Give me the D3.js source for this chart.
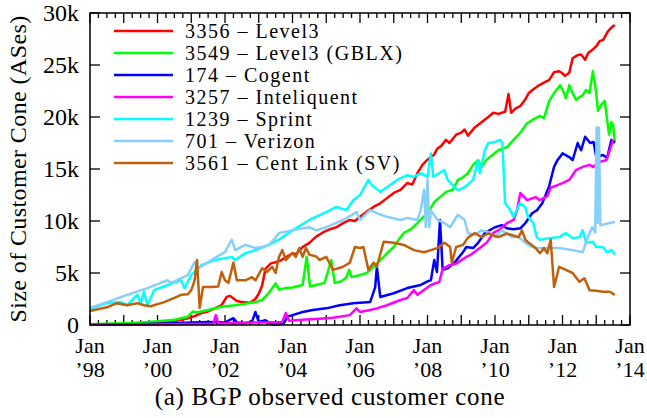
<!DOCTYPE html>
<html>
<head>
<meta charset="utf-8">
<script src="https://cdn.jsdelivr.net/npm/d3@7"></script>
<style>
  body { margin: 0; background: #fff; }
  svg text { font-family: 'Liberation Serif', 'Times New Roman', serif; fill: #000; }
</style>
</head>
<body>
<div class="container"></div>
<script>
// [year, customer cone size]
const level3 = [[1998.0,30],[1998.5,50],[1999.0,80],[1999.5,120],[2000.0,200],[2000.5,350],[2000.9,650],[2001.1,850],[2001.3,1150],[2001.5,1300],[2001.7,1600],[2001.9,1900],[2002.05,2700],[2002.15,2800],[2002.35,2300],[2002.5,2200],[2002.75,2150],[2002.9,2500],[2003.0,3000],[2003.1,3800],[2003.2,5400],[2003.35,5900],[2003.5,6050],[2003.65,6200],[2003.8,6500],[2004.0,6900],[2004.1,6800],[2004.3,7500],[2004.5,7900],[2004.7,8500],[2004.9,8900],[2005.1,9200],[2005.3,9400],[2005.5,9800],[2005.7,10100],[2005.85,10000],[2006.0,10400],[2006.2,10900],[2006.4,11350],[2006.6,11700],[2006.8,12200],[2007.0,12700],[2007.2,13000],[2007.4,13650],[2007.55,13500],[2007.7,14600],[2007.85,15400],[2008.0,15900],[2008.2,16400],[2008.3,17000],[2008.4,17200],[2008.55,17800],[2008.65,17500],[2008.85,18300],[2009.0,18500],[2009.1,18800],[2009.2,18200],[2009.4,19000],[2009.6,19500],[2009.8,20000],[2009.95,20400],[2010.1,20300],[2010.3,20500],[2010.4,22200],[2010.48,20400],[2010.6,20800],[2010.75,21050],[2010.9,21700],[2011.0,22300],[2011.15,22700],[2011.3,23050],[2011.45,23300],[2011.6,23550],[2011.75,24300],[2011.9,24400],[2012.0,24200],[2012.07,23950],[2012.2,24250],[2012.3,25650],[2012.45,25950],[2012.55,26000],[2012.67,25500],[2012.76,26150],[2012.9,26500],[2013.0,26800],[2013.1,27300],[2013.2,27400],[2013.35,28250],[2013.45,28600],[2013.55,28850]];

const gblx = [[1998.0,80],[1998.5,120],[1999.0,180],[1999.5,250],[2000.0,350],[2000.5,500],[2000.9,800],[2001.05,1300],[2001.15,1200],[2001.5,1450],[2001.9,1750],[2002.3,1900],[2002.6,2050],[2002.9,2200],[2003.1,2400],[2003.3,3100],[2003.5,4000],[2003.6,3400],[2003.8,3550],[2004.0,3600],[2004.3,3850],[2004.42,6550],[2004.52,3700],[2004.7,3850],[2004.95,4050],[2005.15,6250],[2005.25,4050],[2005.45,4200],[2005.6,4600],[2005.68,5300],[2005.75,4600],[2006.0,4800],[2006.2,5000],[2006.4,5600],[2006.7,6550],[2006.9,7200],[2007.0,7500],[2007.2,8450],[2007.3,8850],[2007.5,9200],[2007.7,9800],[2007.85,10300],[2008.0,10750],[2008.2,11800],[2008.37,12300],[2008.55,12800],[2008.75,13000],[2008.9,13950],[2009.05,14200],[2009.2,14600],[2009.35,15400],[2009.5,15850],[2009.6,15200],[2009.75,15900],[2009.85,16150],[2010.1,16800],[2010.35,17100],[2010.55,17800],[2010.74,18450],[2010.95,19400],[2011.15,19800],[2011.33,20100],[2011.45,19900],[2011.6,21500],[2011.75,22300],[2011.93,23050],[2012.05,22300],[2012.1,21800],[2012.2,23050],[2012.3,22300],[2012.4,21650],[2012.5,21900],[2012.6,22100],[2012.7,22600],[2012.8,22300],[2012.9,24400],[2013.0,22300],[2013.05,20600],[2013.15,21200],[2013.25,21550],[2013.32,19800],[2013.38,18300],[2013.45,19500],[2013.5,19200],[2013.55,17600]];

const cogent = [[1998.0,30],[1999.0,60],[2000.0,120],[2000.5,180],[2001.0,230],[2001.5,280],[2002.0,250],[2002.25,650],[2002.35,250],[2002.6,200],[2002.8,300],[2002.9,1250],[2003.0,300],[2003.2,450],[2003.4,50],[2003.6,50],[2003.75,200],[2003.85,800],[2004.0,950],[2004.3,1250],[2004.6,1450],[2005.0,1600],[2005.4,1900],[2005.8,2100],[2006.3,2200],[2006.45,3650],[2006.5,5600],[2006.6,2700],[2007.0,3050],[2007.4,3550],[2007.8,3850],[2008.0,4200],[2008.1,4300],[2008.2,6250],[2008.28,5100],[2008.37,10100],[2008.45,5300],[2008.6,5450],[2008.8,6000],[2009.05,7000],[2009.15,7500],[2009.35,7400],[2009.5,7900],[2009.7,8850],[2010.0,9400],[2010.2,9600],[2010.35,9300],[2010.55,9200],[2010.75,9300],[2010.9,9800],[2011.1,10750],[2011.25,11050],[2011.4,11700],[2011.6,13300],[2011.75,15200],[2011.85,15850],[2012.0,16500],[2012.2,16150],[2012.3,15850],[2012.45,17500],[2012.55,16800],[2012.67,18100],[2012.82,17500],[2012.92,17600],[2013.0,16150],[2013.2,16350],[2013.32,16050],[2013.45,17800],[2013.55,17500]];

const inteliquent = [[1998.0,20],[1999.0,40],[2000.0,60],[2001.0,100],[2001.65,120],[2001.73,950],[2001.8,150],[2002.5,200],[2003.0,250],[2003.7,300],[2003.8,1150],[2003.9,400],[2004.3,500],[2004.8,600],[2005.2,700],[2005.7,950],[2005.9,1600],[2006.0,1250],[2006.3,1450],[2006.5,1600],[2006.8,1900],[2007.2,2400],[2007.4,2600],[2007.6,3350],[2007.7,2900],[2008.1,3850],[2008.35,4150],[2008.45,5400],[2008.65,5750],[2008.85,5900],[2009.1,6450],[2009.3,6800],[2009.55,7400],[2009.75,7900],[2009.95,8850],[2010.15,9200],[2010.35,9800],[2010.55,10100],[2010.65,11000],[2010.75,12700],[2010.95,12000],[2011.2,12300],[2011.33,12000],[2011.55,12400],[2011.65,13200],[2011.85,13450],[2012.0,13650],[2012.2,13950],[2012.4,14900],[2012.6,15200],[2012.8,15400],[2012.9,15200],[2013.1,15700],[2013.3,15850],[2013.4,16800],[2013.5,17800]];

const sprint = [[1998.0,1500],[1998.3,1900],[1998.5,2100],[1998.9,2200],[1999.1,1900],[1999.4,2900],[1999.5,2100],[1999.6,3200],[1999.7,1900],[1999.9,3350],[2000.3,3850],[2000.6,4200],[2000.7,4300],[2000.8,3550],[2001.0,4800],[2001.2,5450],[2001.3,5750],[2001.7,6250],[2002.2,6550],[2002.3,6250],[2002.6,6900],[2002.9,7200],[2003.3,7700],[2003.6,8200],[2004.0,9100],[2004.5,10100],[2005.0,10850],[2005.3,11350],[2005.6,11050],[2005.8,12000],[2006.0,12500],[2006.25,13950],[2006.35,13450],[2006.6,12800],[2006.8,13250],[2007.1,13950],[2007.4,14400],[2007.6,14250],[2007.8,14600],[2008.0,14250],[2008.1,16500],[2008.17,14250],[2008.5,14900],[2008.6,13950],[2008.9,12950],[2009.1,13250],[2009.35,13950],[2009.5,15850],[2009.55,14600],[2009.7,16800],[2009.8,17500],[2010.0,17600],[2010.15,17800],[2010.22,17500],[2010.3,11700],[2010.45,11050],[2010.55,10400],[2010.74,11700],[2010.89,11350],[2010.98,10400],[2011.13,9800],[2011.24,8450],[2011.33,8200],[2011.6,8350],[2011.9,8450],[2012.1,8850],[2012.3,8350],[2012.5,8450],[2012.6,9100],[2012.7,7900],[2012.9,8000],[2013.0,7500],[2013.2,7500],[2013.32,7000],[2013.45,7200],[2013.55,6750]];

const verizon = [[1998.0,1650],[1998.5,2200],[1999.1,2900],[1999.7,3550],[2000.3,4300],[2000.4,4050],[2000.9,4800],[2001.1,6050],[2001.2,5450],[2001.7,6450],[2002.0,7000],[2002.2,8200],[2002.3,7200],[2002.6,7700],[2002.9,7400],[2003.1,7500],[2003.3,7700],[2003.5,8400],[2003.6,8850],[2004.0,9100],[2004.5,9400],[2004.7,9100],[2005.0,9400],[2005.5,10100],[2005.9,10850],[2006.0,10100],[2006.3,11050],[2006.5,10750],[2006.8,10400],[2007.2,10100],[2007.4,10300],[2007.7,10100],[2007.8,11050],[2007.9,13000],[2007.95,9400],[2008.0,14000],[2008.05,9400],[2008.1,11000],[2008.3,10100],[2008.5,9800],[2008.67,9400],[2008.9,10600],[2009.1,10100],[2009.2,8850],[2009.4,8650],[2009.6,9100],[2009.8,8950],[2010.0,8450],[2010.2,9100],[2010.5,8450],[2010.7,8450],[2010.9,7900],[2011.1,7500],[2011.3,7400],[2011.9,7400],[2012.3,7200],[2012.6,7000],[2012.75,8450],[2012.88,9400],[2012.97,8900],[2013.01,19000],[2013.04,9800],[2013.08,19000],[2013.12,9600],[2013.4,9800],[2013.55,9900]];

const centLink = [[1998.0,1350],[1998.5,1700],[1998.8,2100],[1999.1,1900],[1999.4,2100],[1999.6,1900],[1999.8,1800],[2000.2,2200],[2000.5,2600],[2000.7,2900],[2000.9,2950],[2001.0,3350],[2001.1,4300],[2001.17,6250],[2001.25,1650],[2001.35,3650],[2001.6,3650],[2001.8,3700],[2001.9,5100],[2002.0,4300],[2002.1,4050],[2002.25,6000],[2002.35,4300],[2002.6,4300],[2002.8,4600],[2002.9,4300],[2003.1,5450],[2003.25,5100],[2003.4,5600],[2003.5,5000],[2003.6,6550],[2003.7,7200],[2003.8,6250],[2004.0,6900],[2004.1,6550],[2004.2,7400],[2004.3,6550],[2004.4,7400],[2004.5,6750],[2004.7,6600],[2004.8,6250],[2005.0,6550],[2005.2,5300],[2005.5,5600],[2005.7,6000],[2005.85,7500],[2006.0,7400],[2006.1,7500],[2006.25,5300],[2006.4,6000],[2006.5,5600],[2006.7,8000],[2007.0,7900],[2007.3,7700],[2007.6,7200],[2007.9,7000],[2008.1,7200],[2008.3,7400],[2008.5,7900],[2008.67,7500],[2008.72,6000],[2008.85,7500],[2009.05,7700],[2009.2,8400],[2009.4,8850],[2009.6,8450],[2009.8,8800],[2010.1,8450],[2010.35,8800],[2010.7,8450],[2010.8,9100],[2010.9,8200],[2011.0,7900],[2011.2,7400],[2011.33,6900],[2011.45,7400],[2011.55,6900],[2011.65,8200],[2011.75,3650],[2011.9,5600],[2012.1,5300],[2012.3,5000],[2012.5,4150],[2012.65,4500],[2012.8,3350],[2013.0,3300],[2013.2,3200],[2013.4,3200],[2013.55,2900]];

const seriesNames = ['3356 – Level3', '3549 – Level3 (GBLX)', '174 – Cogent', '3257 – Inteliquent', '1239 – Sprint', '701 – Verizon', '3561 – Cent Link (SV)'];
const seriesValues = [level3, gblx, cogent, inteliquent, sprint, verizon, centLink];
const seriesColors = ['#ff0000', '#00ff00', '#0000ff', '#ff00ff', '#00ffff', '#87cefa', '#c0600c'];

const yTicks = [0, 5000, 10000, 15000, 20000, 25000, 30000];
const yTickLabels = ['0', '5k', '10k', '15k', '20k', '25k', '30k'];
const xYears = [1998, 2000, 2002, 2004, 2006, 2008, 2010, 2012, 2014];
const xTickLabels = ['’98', '’00', '’02', '’04', '’06', '’08', '’10', '’12', '’14'];

const width = 647, height = 418;
const margin = { left: 90, right: 17, top: 13, bottom: 93 };
const fontSize = 24;

const svg = d3.select('.container')
            .append('svg')
            .attr('width', width)
            .attr('height', height);

const x = d3.scaleLinear().domain([1998, 2014]).range([margin.left, width - margin.right]);
const y = d3.scaleLinear().domain([0, 30000]).range([height - margin.bottom, margin.top]);

// quarterly minor ticks, yearly major ticks
const quarters = d3.range(1998, 2014.01, 0.25);
const isYear = d => Math.abs(d - Math.round(d)) < 1e-6;

const ticks = svg.append('g').attr('stroke', '#000').attr('stroke-width', 1.3);
ticks.selectAll('.xb')
    .data(quarters)
    .enter()
    .append('line')
    .attr('x1', d => x(d)).attr('x2', d => x(d))
    .attr('y1', y(0))
    .attr('y2', d => y(0) - (isYear(d) ? 10 : 5));
ticks.selectAll('.xt')
    .data(quarters)
    .enter()
    .append('line')
    .attr('x1', d => x(d)).attr('x2', d => x(d))
    .attr('y1', y(30000))
    .attr('y2', d => y(30000) + (isYear(d) ? 10 : 5));
ticks.selectAll('.yl')
    .data(yTicks)
    .enter()
    .append('line')
    .attr('x1', x(1998)).attr('x2', x(1998) + 10)
    .attr('y1', d => y(d)).attr('y2', d => y(d));
ticks.selectAll('.yr')
    .data(yTicks)
    .enter()
    .append('line')
    .attr('x1', x(2014)).attr('x2', x(2014) - 10)
    .attr('y1', d => y(d)).attr('y2', d => y(d));

// tick labels
svg.append('g')
    .selectAll('text')
    .data(yTicks)
    .enter()
    .append('text')
    .attr('x', x(1998) - 11)
    .attr('y', d => y(d) + 8)
    .attr('text-anchor', 'end')
    .attr('font-size', fontSize)
    .text((d, i) => yTickLabels[i]);

// month and year as two separate texts under each labelled tick
const xl = svg.append('g')
    .selectAll('g')
    .data(xYears)
    .enter()
    .append('g')
    .attr('font-size', 22)
    .attr('text-anchor', 'middle');
xl.append('text').attr('x', d => x(d)).attr('y', 353).text('Jan');
xl.append('text').attr('x', d => x(d)).attr('y', 377).text((d, i) => xTickLabels[i]);

svg.append('text')
    .attr('transform', `translate(26,${(y(0) + y(30000)) / 2}) rotate(-90)`)
    .attr('text-anchor', 'middle')
    .attr('font-size', fontSize)
    .attr('letter-spacing', 0.4)
    .text('Size of Customer Cone (ASes)');

svg.append('text')
    .attr('x', 330)
    .attr('y', 405)
    .attr('text-anchor', 'middle')
    .attr('font-size', 25)
    .attr('letter-spacing', 0.7)
    .text('(a) BGP observed customer cone');

// series
const line = d3.line()
                .x(d => x(d[0]))
                .y(d => y(d[1]));

svg.append('g')
    .selectAll('path')
    .data(seriesValues)
    .enter()
    .append('path')
    .attr('d', line)
    .attr('fill', 'none')
    .attr('stroke', (d, i) => seriesColors[i])
    .attr('stroke-width', 2.5)
    .attr('stroke-linejoin', 'round');

// legend
const legend = svg.append('g')
                .selectAll('g')
                .data(seriesNames)
                .enter()
                .append('g')
                .attr('transform', (d, i) => `translate(0,${31 + i * 22})`);
legend.append('line')
    .attr('x1', 114).attr('x2', 173)
    .attr('stroke', (d, i) => seriesColors[i])
    .attr('stroke-width', 2.5);
legend.append('text')
    .attr('x', 185)
    .attr('y', 7)
    .attr('font-size', 20)
    .attr('letter-spacing', 1.5)
    .text(d => d);

// frame
svg.append('rect')
    .attr('x', x(1998)).attr('y', y(30000))
    .attr('width', x(2014) - x(1998))
    .attr('height', y(0) - y(30000))
    .attr('fill', 'none')
    .attr('stroke', '#000')
    .attr('stroke-width', 1.5);
</script>
</body>
</html>
